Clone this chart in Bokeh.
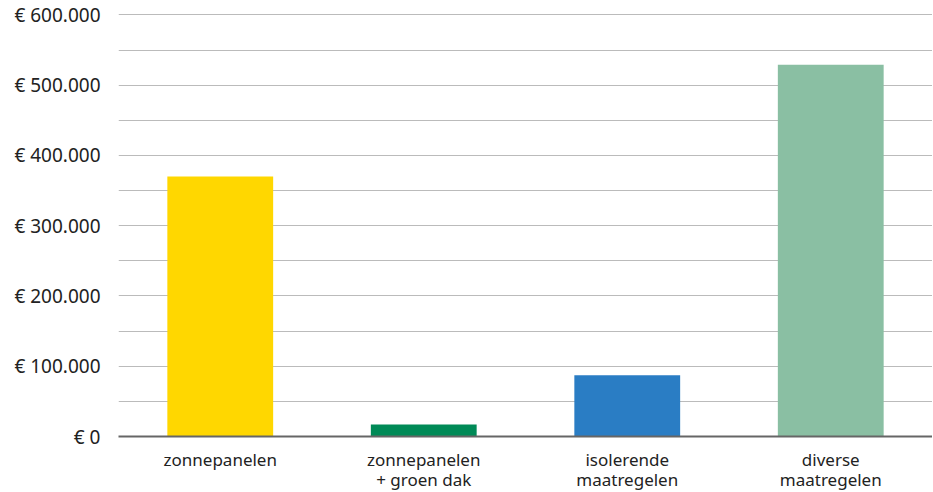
from bokeh.plotting import figure
from bokeh.models import FixedTicker, Range1d
from bokeh.embed import file_html
from bokeh.resources import INLINE

categories = ["zonnepanelen", "zonnepanelen\n+ groen dak", "isolerende\nmaatregelen", "diverse\nmaatregelen"]
values = [370000, 17000, 87000, 529000]
colors = ["#FFD700", "#008A57", "#2A7DC4", "#8ABFA3"]
y_ticks = [0, 100000, 200000, 300000, 400000, 500000, 600000]
y_tick_labels = ["€ 0", "€ 100.000", "€ 200.000", "€ 300.000", "€ 400.000", "€ 500.000", "€ 600.000"]

p = figure(x_range=categories, frame_width=814, frame_height=423, output_backend="svg",
           toolbar_location=None, min_border_left=118, min_border_right=0,
           min_border_top=13, min_border_bottom=40)
p.y_range = Range1d(0, 602000)
p.vbar(x=categories, top=values, width=0.52, color=colors, line_color=None)

p.outline_line_color = None
p.xgrid.grid_line_color = None
p.ygrid.grid_line_color = "#BBBBBB"
p.ygrid.minor_grid_line_color = "#BBBBBB"
p.ygrid.grid_line_width = 1

p.yaxis.ticker = FixedTicker(ticks=y_ticks, minor_ticks=[50000, 150000, 250000, 350000, 450000, 550000])
p.yaxis.major_label_overrides = {t: l for t, l in zip(y_ticks, y_tick_labels)}
p.yaxis.axis_line_color = None
p.yaxis.major_tick_line_color = None
p.yaxis.minor_tick_line_color = None
p.yaxis.major_label_text_font = "Noto Sans"
p.yaxis.major_label_text_font_size = "19px"
p.yaxis.major_label_text_color = "#222222"
p.yaxis.major_label_standoff = 12

p.xaxis.axis_line_color = "#666666"
p.xaxis.axis_line_width = 2
p.xaxis.major_tick_line_color = None
p.xaxis.minor_tick_line_color = None
p.xaxis.major_label_text_font = "Noto Sans"
p.xaxis.major_label_text_font_size = "17px"
p.xaxis.major_label_text_color = "#222222"
p.xaxis.major_label_standoff = 5
p.xaxis.major_label_text_line_height = 0.9

open("out.html", "w").write(file_html(p, INLINE))
